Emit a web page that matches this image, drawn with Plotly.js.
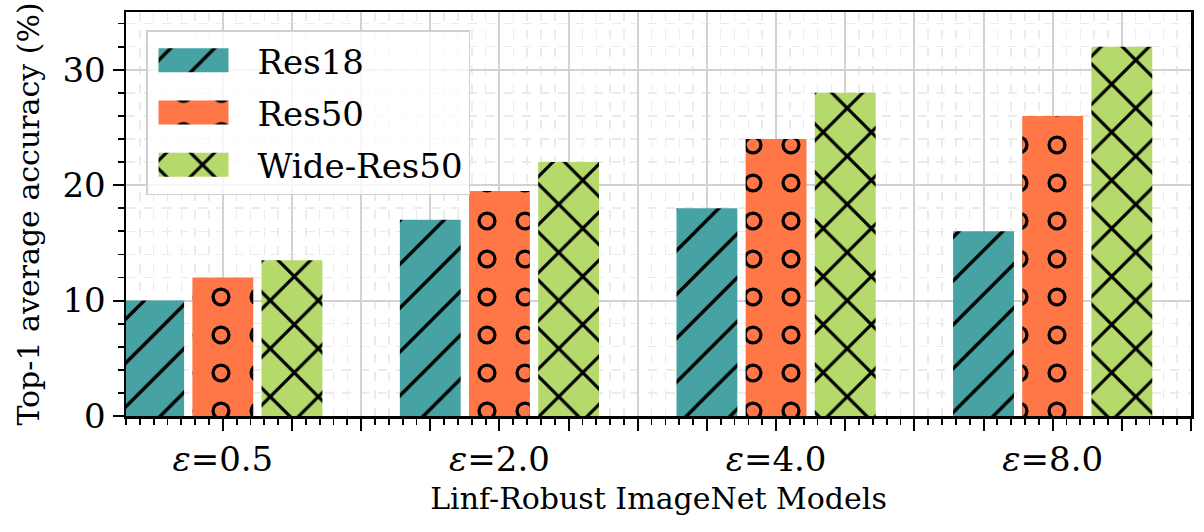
<!DOCTYPE html>
<html><head><meta charset="utf-8">
<script src="https://cdn.plot.ly/plotly-3.0.1.min.js"></script>
<style>html,body{margin:0;padding:0;background:#fff}#chart{width:1204px;height:532px}</style>
</head><body><div id="chart"></div>
<script>
// ---- data ----
const categories = ['0.5', '2.0', '4.0', '8.0'];
const tickLabels = categories.map(c => '<i>ε</i>=' + c);
const seriesNames = ['Res18', 'Res50', 'Wide-Res50'];
const res18 = [10, 17, 18, 16];
const res50 = [12, 19.5, 24, 26];
const wideRes50 = [13.5, 22, 28, 32];
const yTitle = 'Top-1 average accuracy (%)';
const xTitle = 'Linf-Robust ImageNet Models';

// ---- styling ----
const colors = ['#47a3a3', '#ff7746', '#b5d96b'];
const xIdx = categories.map((_, i) => i);
const barW = 0.22, step = 0.25;
const xRange = [-0.35, 3.5];

function barTrace(name, y, k, pattern, color) {
  return {
    type: 'bar', name: name, x: xIdx, y: y,
    width: barW, offset: (k - 1) * step - barW / 2,
    legendgroup: name,
    marker: { color: color, line: { width: 0 },
      pattern: Object.assign({ fillmode: 'replace', bgcolor: color, fgcolor: '#000000' }, pattern) },
    hoverinfo: 'skip'
  };
}
const data = [
  barTrace(seriesNames[0], res18, 0, { shape: '/', size: 31, solidity: 0.11 }, colors[0]),
  barTrace(seriesNames[1], res50, 1, { shape: '.', size: 38, solidity: 0.2 }, colors[1]),
  barTrace(seriesNames[2], wideRes50, 2, { shape: 'x', size: 34, solidity: 0.18 }, colors[2])
];
// ring holes for the circle hatch
const ring = barTrace('ring', res50, 1, { shape: '.', size: 38, solidity: 0.085, bgcolor: 'rgba(0,0,0,0)', fgcolor: colors[1] }, 'rgba(0,0,0,0)');
ring.showlegend = false;
data.push(ring);

// major tick positions every 0.25, labels only at group centres
const tickVals = [], tickText = [];
for (let v = 0; v <= 3.5 + 1e-9; v += 0.25) {
  const r = Math.round(v * 100) / 100;
  tickVals.push(r);
  const i = xIdx.indexOf(r);
  tickText.push(i >= 0 ? tickLabels[i] : '');
}

const majorGrid = '#d2d2d2', minorGrid = '#ebebeb';
const layout = {
  width: 1204, height: 532,
  margin: { l: 126, r: 13, t: 12, b: 116 },
  paper_bgcolor: '#ffffff', plot_bgcolor: '#ffffff',
  font: { family: 'DejaVu Serif', color: '#000000' },
  barmode: 'overlay',
  showlegend: true,
  legend: {
    x: 0.0188, y: 0.955, xanchor: 'left', yanchor: 'top',
    bgcolor: 'rgba(255,255,255,0.8)', bordercolor: '#d0d0d0', borderwidth: 1.5,
    font: { size: 34, family: 'DejaVu Serif' },
    itemwidth: 100, traceorder: 'grouped', tracegroupgap: 5
  },
  xaxis: {
    range: xRange, tickmode: 'array', tickvals: tickVals, ticktext: tickText,
    ticks: 'outside', ticklen: 12, tickwidth: 2, tickcolor: '#000',
    showline: true, mirror: true, linecolor: '#000', linewidth: 2.5,
    showgrid: true, gridcolor: majorGrid, gridwidth: 2, zeroline: false,
    tickfont: { size: 34 }, automargin: false,
    minor: { tickmode: 'linear', tick0: 0, dtick: 0.05, ticks: 'outside', ticklen: 6, tickwidth: 1.8,
      tickcolor: '#000', showgrid: true, gridcolor: minorGrid, gridwidth: 1.5, griddash: 'dash' },
    title: { text: xTitle, font: { size: 30 }, standoff: 10 }
  },
  yaxis: {
    range: [0, 35], tickmode: 'linear', tick0: 0, dtick: 10,
    ticks: 'outside', ticklen: 11, tickwidth: 2, tickcolor: '#000',
    showline: true, mirror: true, linecolor: '#000', linewidth: 2.5,
    showgrid: true, gridcolor: majorGrid, gridwidth: 2, zeroline: false,
    tickfont: { size: 34 }, automargin: false,
    minor: { tickmode: 'linear', tick0: 0, dtick: 2, ticks: 'outside', ticklen: 6, tickwidth: 1.8,
      tickcolor: '#000', showgrid: true, gridcolor: minorGrid, gridwidth: 1.5, griddash: 'dash' },
    title: { text: yTitle, font: { size: 30 }, standoff: 14 }
  }
};

Plotly.newPlot('chart', data, layout, { staticPlot: true }).then(gd => {
  const rect = 'M-44,-12H26V12H-44Z';
  const items = gd.querySelectorAll('.legend .traces');
  const barTraces = gd.querySelectorAll('.barlayer .trace');
  const fills = [];
  barTraces.forEach(t => {
    const bp = t.querySelector('path');
    fills.push(bp ? bp.style.fill : null);
  });
  items.forEach((it, idx) => {
    const p = it.querySelector('.legendpoints path');
    if (!p) return;
    p.setAttribute('d', rect);
    if (fills[idx]) p.style.fill = fills[idx];
    if (idx === 1 && fills[3]) {
      const np = document.createElementNS('http://www.w3.org/2000/svg', 'path');
      np.setAttribute('d', rect);
      if (p.getAttribute('transform')) np.setAttribute('transform', p.getAttribute('transform'));
      np.style.fill = fills[3];
      np.style.stroke = 'none';
      p.parentNode.appendChild(np);
    }
  });
});
</script>
</body></html>
